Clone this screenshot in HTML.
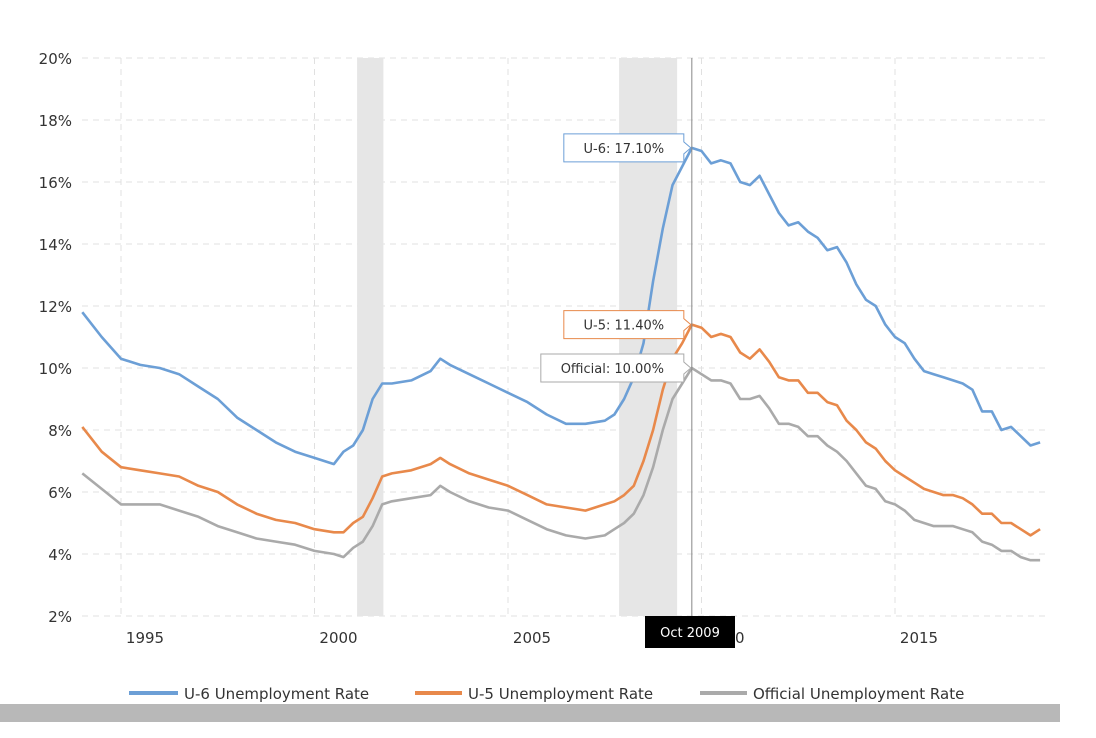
<!DOCTYPE html>
<html><head><meta charset="utf-8"><style>
body{margin:0;background:#fff;width:1096px;height:734px;overflow:hidden;font-family:"DejaVu Sans","Liberation Sans",sans-serif}
svg text{font-family:"DejaVu Sans","Liberation Sans",sans-serif}
</style></head><body>
<svg id="chart" width="1096" height="734" xmlns="http://www.w3.org/2000/svg">
<rect x="0" y="704" width="1060" height="18" fill="#b8b8b8"/>
<g id="grid"></g><g id="rec"></g><g id="lines"></g><g id="axes"></g><g id="tips"></g>
<g font-size="15" fill="#333">
<g><line x1="129" y1="693" x2="178" y2="693" stroke="#6c9fd6" stroke-width="4"/><text x="184" y="699">U-6 Unemployment Rate</text></g>
<g><line x1="415" y1="693" x2="462" y2="693" stroke="#e8894b" stroke-width="4"/><text x="468" y="699">U-5 Unemployment Rate</text></g>
<g><line x1="700" y1="693" x2="747" y2="693" stroke="#aaa" stroke-width="4"/><text x="753" y="699">Official Unemployment Rate</text></g>
</g>
</svg>
<script>
const years=[1994,1994.5,1995,1995.5,1996,1996.5,1997,1997.5,1998,1998.5,1999,1999.5,2000,2000.5,
2000.75,2001,2001.25,2001.5,2001.75,2002,2002.5,2003,2003.25,2003.5,2004,2004.5,2005,2005.5,2006,2006.5,2007,2007.5,
2007.75,2008,2008.25,2008.5,2008.75,2009,2009.25,2009.5,2009.75,2010,2010.25,2010.5,2010.75,2011,2011.25,2011.5,2011.75,
2012,2012.25,2012.5,2012.75,2013,2013.25,2013.5,2013.75,2014,2014.25,2014.5,2014.75,2015,2015.25,2015.5,2015.75,
2016,2016.25,2016.5,2016.75,2017,2017.25,2017.5,2017.75,2018,2018.25,2018.5,2018.75];
const u6=[11.8,11.0,10.3,10.1,10.0,9.8,9.4,9.0,8.4,8.0,7.6,7.3,7.1,6.9,
7.3,7.5,8.0,9.0,9.5,9.5,9.6,9.9,10.3,10.1,9.8,9.5,9.2,8.9,8.5,8.2,8.2,8.3,
8.5,9.0,9.7,10.8,12.8,14.5,15.9,16.5,17.1,17.0,16.6,16.7,16.6,16.0,15.9,16.2,15.6,
15.0,14.6,14.7,14.4,14.2,13.8,13.9,13.4,12.7,12.2,12.0,11.4,11.0,10.8,10.3,9.9,
9.8,9.7,9.6,9.5,9.3,8.6,8.6,8.0,8.1,7.8,7.5,7.6];
const u5=[8.1,7.3,6.8,6.7,6.6,6.5,6.2,6.0,5.6,5.3,5.1,5.0,4.8,4.7,
4.7,5.0,5.2,5.8,6.5,6.6,6.7,6.9,7.1,6.9,6.6,6.4,6.2,5.9,5.6,5.5,5.4,5.6,
5.7,5.9,6.2,7.0,8.0,9.3,10.3,10.8,11.4,11.3,11.0,11.1,11.0,10.5,10.3,10.6,10.2,
9.7,9.6,9.6,9.2,9.2,8.9,8.8,8.3,8.0,7.6,7.4,7.0,6.7,6.5,6.3,6.1,
6.0,5.9,5.9,5.8,5.6,5.3,5.3,5.0,5.0,4.8,4.6,4.8];
const official=[6.6,6.1,5.6,5.6,5.6,5.4,5.2,4.9,4.7,4.5,4.4,4.3,4.1,4.0,
3.9,4.2,4.4,4.9,5.6,5.7,5.8,5.9,6.2,6.0,5.7,5.5,5.4,5.1,4.8,4.6,4.5,4.6,
4.8,5.0,5.3,5.9,6.8,8.0,9.0,9.5,10.0,9.8,9.6,9.6,9.5,9.0,9.0,9.1,8.7,
8.2,8.2,8.1,7.8,7.8,7.5,7.3,7.0,6.6,6.2,6.1,5.7,5.6,5.4,5.1,5.0,
4.9,4.9,4.9,4.8,4.7,4.4,4.3,4.1,4.1,3.9,3.8,3.8];
const yTicks=[2,4,6,8,10,12,14,16,18,20];
const xTicks=[1995,2000,2005,2010,2015];
const recessions=[[2001.1,2001.78],[2007.87,2009.37]];
const hoverYear=2009.75, hoverLabel="Oct 2009";
const NS="http://www.w3.org/2000/svg";
const X=y=>121+(y-1995)*38.7, Y=v=>616-(v-2)*31;
function mk(t,a,p){const e=document.createElementNS(NS,t);for(const k in a)e.setAttribute(k,a[k]);p.appendChild(e);return e;}
const grid=document.getElementById('grid'),axes=document.getElementById('axes');
yTicks.forEach(v=>{
 const l=mk('line',{x1:82,x2:1045,y1:Y(v),y2:Y(v),stroke:'#e0e0e0','stroke-dasharray':'6,5'},grid);
 
 
 const t=mk('text',{x:72,y:Y(v)+6,'text-anchor':'end','font-size':15,fill:'#333'},axes);t.textContent=v+'%';
 
 
});
xTicks.forEach(v=>{
 const l=mk('line',{x1:X(v),x2:X(v),y1:58,y2:616,stroke:'#e0e0e0','stroke-dasharray':'6,5'},grid);
 
 
 const t=mk('text',{x:X(v)+24,y:643,'text-anchor':'middle','font-size':15,fill:'#333'},axes);t.textContent=v;
 
 
});
recessions.forEach(r=>{
 const e=mk('rect',{x:X(r[0]),y:58,width:X(r[1])-X(r[0]),height:558,fill:'#e6e6e6'},document.getElementById('rec'));
 
 
});
const lines=document.getElementById('lines');
[[official,'#aaaaaa','official-line'],[u5,'#e8894b','u5-line'],[u6,'#6c9fd6','u6-line']].forEach(s=>{
 const d=s[0].map((v,i)=>(i?'L':'M')+X(years[i]).toFixed(1)+','+Y(v).toFixed(1)).join('');
 const p=mk('path',{d:d,fill:'none',stroke:s[1],'stroke-width':2.6,'stroke-linejoin':'round'},lines);
 
 
});
const tips=document.getElementById('tips');
const hx=X(hoverYear);
const cl=mk('line',{x1:hx,x2:hx,y1:58,y2:616,stroke:'#888','stroke-width':1},tips);


const hi=years.indexOf(hoverYear);
[[u6,'#6c9fd6','U-6: ',120,'u6-tooltip'],[u5,'#e8894b','U-5: ',120,'u5-tooltip'],[official,'#aaaaaa','Official: ',143,'official-tooltip']].forEach(s=>{
 const v=s[0][hi],py=Y(v),w=s[3],x0=hx-8-w,y0=py-14;
 const g=mk('g',{},tips);
 
 
 mk('path',{d:`M${x0},${y0}h${w}v8l7,6l-7,6v8h-${w}z`,fill:'#fff',stroke:s[1],'stroke-width':1},g);
 const t=mk('text',{x:x0+w/2,y:y0+19,'text-anchor':'middle','font-size':13,fill:'#333'},g);
 t.textContent=s[2]+v.toFixed(2)+'%';
});
const xl=mk('g',{},tips);


mk('rect',{x:645,y:616,width:90,height:32,fill:'#000'},xl);
const xt=mk('text',{x:690,y:637,'text-anchor':'middle','font-size':13,fill:'#fff'},xl);xt.textContent=hoverLabel;
</script>
</body></html>
